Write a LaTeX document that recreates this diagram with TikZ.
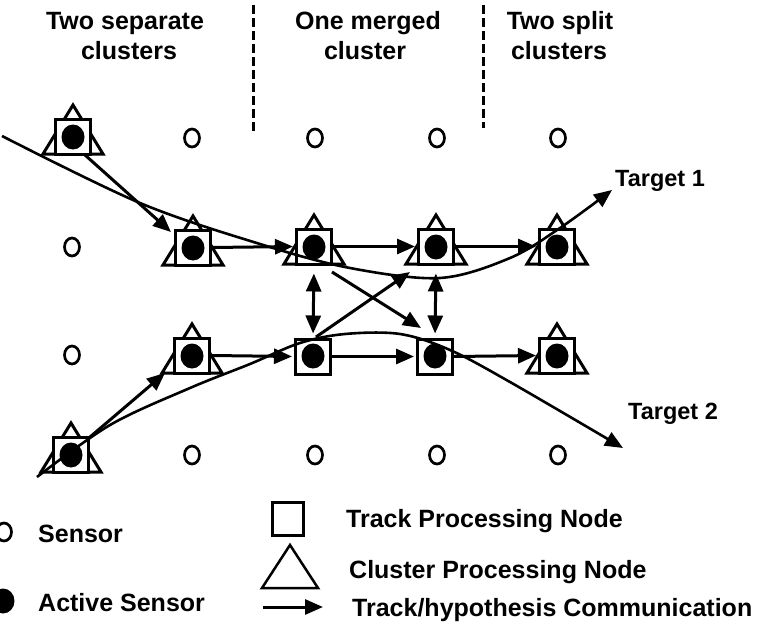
\documentclass[tikz,border=0pt]{standalone}
\usepackage{fontspec}
\setmainfont{Liberation Sans}
\usetikzlibrary{arrows.meta,shapes.geometric}
\newcommand\TriNode[3]{%
  \coordinate (#1) at (#2,#3);
  \draw[tri] (#2,#3-32) -- (#2+30,#3+17) -- (#2-30,#3+17) -- cycle;
  \node[sqbox] (q#1) at (#2,#3-0.5) {};
  \node[actdot] (d#1) at (#2,#3) {};}
\newcommand\SqNode[3]{%
  \coordinate (#1) at (#2,#3);
  \node[sqbox] (q#1) at (#2,#3+0.5) {};
  \node[actdot] (d#1) at (#2,#3) {};}
\begin{document}
\begin{tikzpicture}[x=1pt,y=-1pt,
  lbl/.style={font=\fontsize{25}{30}\selectfont\bfseries, inner sep=0pt},
  tlbl/.style={font=\fontsize{23.5}{28}\selectfont\bfseries, inner sep=0pt},
  sensor/.style={ellipse, draw, line width=2.7pt, minimum width=15pt, minimum height=18pt, inner sep=0pt},
  actdot/.style={ellipse, fill, minimum width=23pt, minimum height=25pt, inner sep=0pt},
  sqbox/.style={rectangle, draw, fill=white, line width=3pt, minimum width=35pt, minimum height=35pt, inner sep=0pt},
  tri/.style={draw, line width=3pt, line join=miter},
  tipA/.tip={Triangle[length=18pt,width=15pt]},
  comm/.style={line width=3pt, -tipA},
  dbl/.style={line width=3pt, tipA-tipA},
  traj/.style={line width=2.6pt, -tipA},
  divider/.style={line width=3pt, dash pattern=on 9pt off 4pt}
]
\useasboundingbox (0,0) rectangle (769,626);

% headers
\node[lbl,anchor=base] (h1a) at (125,30) {Two separate};
\node[lbl,anchor=base] (h1b) at (129,60) {clusters};
\node[lbl,anchor=base] (h2a) at (368,30) {One merged};
\node[lbl,anchor=base] (h2b) at (365,60) {cluster};
\node[lbl,anchor=base] (h3a) at (560,30) {Two split};
\node[lbl,anchor=base] (h3b) at (559,60) {clusters};

% dividers
\coordinate (dv1a) at (253,5); \coordinate (dv1b) at (253,132);
\coordinate (dv2a) at (483,5); \coordinate (dv2b) at (483,128);
\draw[divider] (dv1a) -- (dv1b);
\draw[divider] (dv2a) -- (dv2b);

% sensors
\node[sensor] (s12) at (192,138) {};
\node[sensor] (s13) at (315,138) {};
\node[sensor] (s14) at (437,138) {};
\node[sensor] (s15) at (558,138) {};
\node[sensor] (s21) at (72,247) {};
\node[sensor] (s31) at (72,355) {};
\node[sensor] (s42) at (192,455) {};
\node[sensor] (s43) at (315,455) {};
\node[sensor] (s44) at (437,455) {};
\node[sensor] (s45) at (558,455) {};

% active nodes
\TriNode{n11}{73}{137}
\TriNode{n22}{193}{248}
\TriNode{n23}{314}{247}
\TriNode{n24}{436}{247}
\TriNode{n25}{557}{247}
\TriNode{n32}{192}{356}
\SqNode{n33}{313}{356}
\SqNode{n34}{435}{356}
\TriNode{n35}{557}{356}
\TriNode{n41}{71}{455}

% trajectories
\coordinate (t1s) at (2,136); \coordinate (t1e) at (612,190);
\draw[traj] plot[smooth, tension=0.55] coordinates {(t1s) (140,203) (260,244) (350,268) (440,278) (510,258) (560,228) (t1e)};
\coordinate (t2s) at (37,477); \coordinate (t2e) at (623,448);
\draw[traj] plot[smooth, tension=0.55] coordinates {(t2s) (110,425) (190,388) (250,364) (300,343) (345,334) (400,334) (450,350) (510,382) (t2e)};

% communication arrows
\draw[comm] ([shift={(12,18)}]n11) -- ([shift={(-22,-16)}]n22);
\draw[comm, shorten >=2pt] (qn22.east) -- (qn23.west);
\draw[comm, shorten >=2pt] (qn23.east) -- (qn24.west);
\draw[comm, shorten >=2pt] (qn24.east) -- (qn25.west);
\draw[comm, shorten >=2pt] (qn32.east) -- (qn33.west);
\draw[comm, shorten >=2pt] (qn33.east) -- (qn34.west);
\draw[comm, shorten >=2pt] (qn34.east) -- (qn35.west);
\draw[dbl, shorten <=8pt, shorten >=4pt] (qn23.south) -- (qn33.north);
\draw[dbl, shorten <=8pt, shorten >=4pt] (qn24.south) -- (qn34.north);
\draw[comm] ([shift={(18,25)}]n23) -- ([shift={(-14,-28)}]n34);
\draw[comm] ([shift={(3,-19)}]n33) -- ([shift={(-26,25)}]n24);
\draw[comm] ([shift={(19,-18)}]n41) -- ([shift={(-27,17)}]n32);

% target labels
\node[tlbl,anchor=base west] (tg1) at (615,186) {Target 1};
\node[tlbl,anchor=base west] (tg2) at (628,419) {Target 2};

% legend
\node[sensor] (ls) at (4,532) {};
\node[lbl,anchor=base west] (lst) at (38,542) {Sensor};
\node[actdot] (la) at (3,601) {};
\node[lbl,anchor=base west] (lat) at (38,611) {Active Sensor};
\node[sqbox, minimum width=31pt, minimum height=33pt, line width=2.2pt] (lq) at (288,519) {};
\node[lbl,anchor=base west] (lqt) at (346,527) {Track Processing Node};
\coordinate (lt) at (290,570);
\draw[tri, line width=2.5pt] (290,545) -- (318,588) -- (262,588) -- cycle;
\node[lbl,anchor=base west] (ltt) at (349,578) {Cluster Processing Node};
\coordinate (la1) at (263,607); \coordinate (la2) at (323,607);
\draw[comm] (la1) -- (la2);
\node[lbl,anchor=base west] (lct) at (352,616) {Track/hypothesis Communication};
\end{tikzpicture}
\end{document}
